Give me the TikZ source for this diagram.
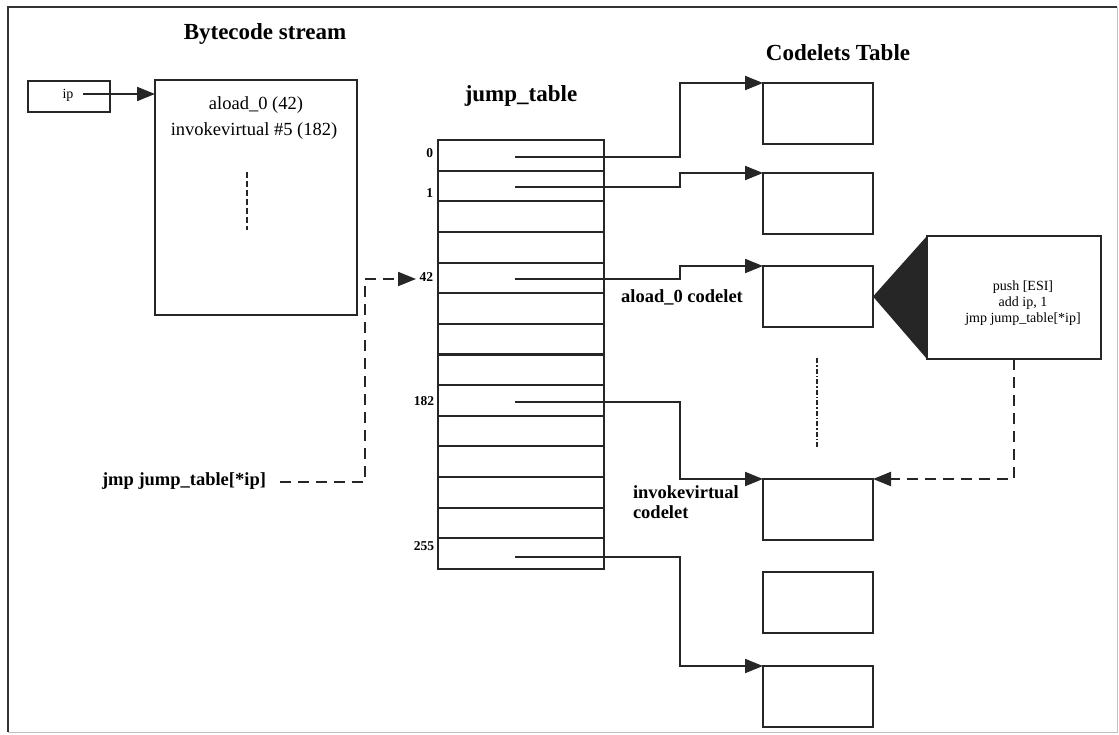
\documentclass[tikz,border=0pt]{standalone}
\usepackage{fontspec}
\setmainfont{Liberation Serif}
\usetikzlibrary{arrows.meta,calc}
\begin{document}
\begin{tikzpicture}[x=1pt,y=-1pt,
  every node/.style={inner sep=0pt, outer sep=0pt},
  ln/.style={line width=2.1pt, draw=black!85},
  rect/.style={draw=black!85, line width=2.1pt, anchor=north west},
  codelet/.style={rect, minimum width=110pt, minimum height=61pt},
  ptr/.style={line width=2.1pt, draw=black!85, -{Triangle[length=18pt,width=14pt]}},
  dptr/.style={ptr, dash pattern=on 11pt off 7pt},
  title/.style={font=\fontsize{23}{26}\selectfont\bfseries},
  blabel/.style={font=\fontsize{18.5}{20}\selectfont\bfseries},
  idx/.style={font=\fontsize{13.5}{14}\selectfont\bfseries, anchor=east},
  plain/.style={font=\fontsize{18.5}{22}\selectfont},
  small/.style={font=\fontsize{14}{16}\selectfont},
]
\useasboundingbox (0,0) rectangle (1119,734);
% frame
\draw[line width=2pt, black!80] (8,732) -- (8,7) -- (1117,7);
\draw[line width=1pt, black!25] (1117,7) -- (1117,732) -- (8,732);

% titles
\node[title] (bctitle) at (265,34) {Bytecode stream};
\node[title] (jttitle) at (521,96) {jump\_table};
\node[title] (cttitle) at (838,53) {Codelets Table};

% ip and bytecode stream
\node[rect, minimum width=82pt, minimum height=31pt] (ipbox) at (28,81) {};
\node[small] (iptext) at (68,95) {ip};
\coordinate (ipptr) at (83,94);
\node[rect, minimum width=202pt, minimum height=235pt] (bc) at (155,80) {};
\node[plain] (bcl1) at (256,105) {aload\_0 (42)};
\node[plain] (bcl2) at (254,131) {invokevirtual \#5 (182)};
\draw[ptr] (ipptr) -- (bc.west |- ipptr);
\draw[line width=1.5pt, black!85, dash pattern=on 6pt off 3pt] (247,172) -- (247,230);

% jump table
\node[rect, minimum width=166pt, minimum height=429pt] (jt) at (438,140) {};
\foreach \k in {1,...,13} \draw[ln] (438,{140+\k*30.643}) -- (604,{140+\k*30.643});
\node[idx] (i0) at (433,153) {0};
\node[idx] (i1) at (433,193) {1};
\node[idx] (i42) at (433,277) {42};
\node[idx] (i182) at (434,401) {182};
\node[idx] (i255) at (434,546) {255};

% codelets
\node[codelet] (c1) at (763,83) {};
\node[codelet] (c2) at (763,173) {};
\node[codelet] (c3) at (763,266) {};
\node[codelet] (c4) at (763,479) {};
\node[codelet] (c5) at (763,572) {};
\node[codelet] (c6) at (763,666) {};

% pointers
\coordinate (bx) at (680,0);
\coordinate (p0) at (515,157);
\coordinate (p1) at (515,187);
\coordinate (p42) at (515,279);
\coordinate (p182) at (515,402);
\coordinate (p255) at (515,557);
\draw[ptr] (p0) -| (bx |- c1.north west) -- (c1.north west);
\draw[ptr] (p1) -| (bx |- c2.north west) -- (c2.north west);
\draw[ptr] (p42) -| (bx |- c3.north west) -- (c3.north west);
\draw[ptr] (p182) -| (bx |- c4.north west) -- (c4.north west);
\draw[ptr] (p255) -| (bx |- c6.north west) -- (c6.north west);

\node[blabel] (aloadlbl) at (682,297) {aload\_0 codelet};
\node[blabel, align=left, anchor=north west] (invlbl) at (633,486) {invokevirtual\\codelet};

% callout
\node[rect, minimum width=174pt, minimum height=123pt] (call) at (927,236) {};
\fill[black!85] (c3.east) -- (call.north west) -- (call.south west) -- cycle;
\node[small, align=center] (calltext) at (1023,303) {push [ESI]\\add ip, 1\\jmp jump\_table[*ip]};
\draw[dptr] (call.south) |- (c4.north east);
\draw[line width=1.5pt, black!85, dash pattern=on 5pt off 2pt on 1.5pt off 2pt] (817,358) -- (817,448);

% jmp dispatch
\node[blabel] (jmplbl) at (184,481) {jmp jump\_table[*ip]};
\coordinate (jmpstart) at (280,482);
\coordinate (jt42in) at (416,279);
\draw[dptr] (jmpstart) -- (365,482) -- (365,279) -- (jt42in);
\end{tikzpicture}
\end{document}
